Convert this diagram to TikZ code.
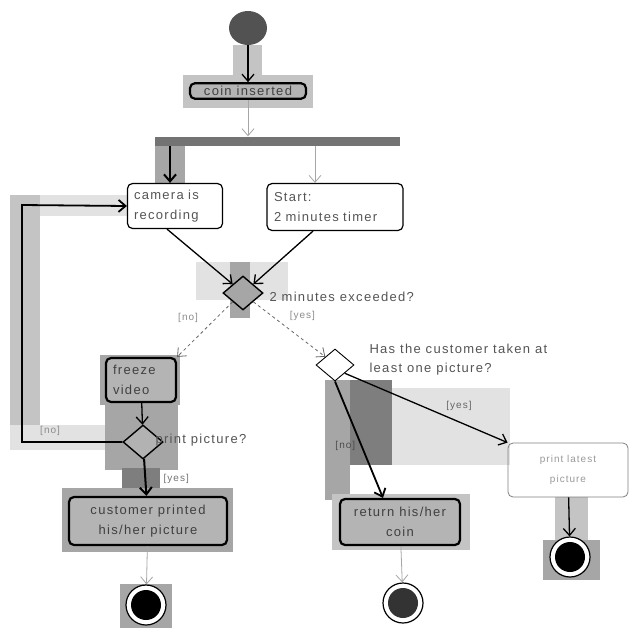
\documentclass[tikz,border=0pt]{standalone}
\usepackage{fontspec}
\setmainfont{Liberation Sans}
\newfontfamily\widefont[LetterSpace=10]{Liberation Sans}
\usetikzlibrary{arrows.meta,shapes.geometric}
\definecolor{txt}{HTML}{555555}
\definecolor{boxfill}{HTML}{B4B4B4}
\definecolor{hlA}{HTML}{E2E2E2}
\definecolor{hlB}{HTML}{C4C4C4}
\definecolor{hlC}{HTML}{A6A6A6}
\definecolor{hlD}{HTML}{7E7E7E}
\tikzset{
  act/.style={draw=black, rounded corners=5pt, line width=1.2pt, align=left,
    text=txt, font=\widefont\fontsize{13}{20}\selectfont, inner sep=6pt},
  actgray/.style={act, fill=boxfill, line width=2.2pt, text=black!75},
  decision/.style={diamond, draw=black, line width=1.4pt, minimum width=40pt,
    minimum height=34pt, inner sep=0pt},
  startnode/.style={ellipse, fill=black!68, minimum width=38pt, minimum height=34pt, inner sep=0pt},
  endnode/.style={circle, draw=black, line width=1.2pt, fill=white, minimum size=40pt, inner sep=0pt,
    path picture={\fill[#1] (path picture bounding box.center) circle (15pt);}},
  endnode/.default=black,
  flow/.style={draw=black, line width=1.3pt, -{Straight Barb[length=7pt,width=12pt]}},
  thinflow/.style={draw=black!35, line width=0.8pt, -{Straight Barb[length=7pt,width=12pt]}},
  guard/.style={text=black!45, font=\widefont\fontsize{10}{12}\selectfont},
  note/.style={text=txt, font=\widefont\fontsize{13}{19}\selectfont, align=left},
}
\begin{document}
\begin{tikzpicture}[x=1pt,y=-1pt]
\useasboundingbox (0,0) rectangle (640,640);
\fill[white] (0,0) rectangle (640,640);

% shaded backdrop marks
\fill[hlB] (233,45) rectangle (262,75);
\fill[hlB] (183,75) rectangle (313,108);
\fill[hlC] (155,140) rectangle (185,183);
\fill[hlA] (10,195) rectangle (127,216);
\fill[hlB] (10,195) rectangle (40,450);
\fill[hlA] (10,425) rectangle (110,450);
\fill[hlA] (196,262) rectangle (288,300);
\fill[hlC] (230,262) rectangle (250,318);
\fill[hlC] (100,355) rectangle (180,405);
\fill[hlC] (105,405) rectangle (178,470);
\fill[hlD] (122,468) rectangle (160,497);
\fill[hlC] (62,488) rectangle (233,552);
\fill[hlC] (120,584) rectangle (172,628);
\fill[hlA] (390,388) rectangle (510,465);
\fill[hlC] (325,380) rectangle (350,500);
\fill[hlD] (350,380) rectangle (392,465);
\fill[hlB] (332,494) rectangle (470,550);
\fill[hlB] (555,497) rectangle (588,540);
\fill[hlC] (543,540) rectangle (600,580);

% nodes
\node[startnode] (start) at (248,28) {};
\node[actgray, align=center, inner xsep=4pt, inner ysep=3pt, minimum width=116pt] (coin) at (248,91) {coin inserted};
\node[fill=black!55, minimum width=245pt, minimum height=9pt, inner sep=0pt] (fork) at (277,141) {};
\node[act, minimum width=95pt, minimum height=45pt, text width=82pt] (cam) at (175,206) {camera is\\recording};
\node[act, minimum width=136pt, minimum height=47pt, text width=122pt] (timer) at (335,207) {Start:\\2 minutes timer};
\node[decision, fill=black!35] (d1) at (243,293) {};
\node[note, anchor=west] at (266,297) {2 minutes exceeded?};
\node[decision, fill=white, line width=0.9pt, minimum width=38pt, minimum height=32pt] (d2) at (335,365) {};
\node[note, anchor=west] at (366,360) {Has the customer taken at\\least one picture?};
\node[actgray, minimum width=70pt, minimum height=44pt, text width=56pt] (freeze) at (141,380) {freeze\\video};
\node[decision, fill=black!30] (d3) at (143,442) {};
\node[note, anchor=west] at (152,440) {print picture?};
\node[actgray, align=center, minimum width=158pt, minimum height=48pt] (printed) at (148,521) {customer printed\\his/her picture};
\node[actgray, align=center, minimum width=120pt, minimum height=46pt] (retcoin) at (400,522) {return his/her\\coin};
\node[act, align=center, draw=black!50, line width=0.8pt, text=black!40,
  font=\widefont\fontsize{10}{20}\selectfont, minimum width=120pt, minimum height=54pt] (latest) at (568,470) {print latest\\picture};
\node[endnode] (end1) at (146,605) {};
\node[endnode=black!80] (end2) at (403,603) {};
\node[endnode] (end3) at (570,557) {};

% connectors
\draw[flow] (start) -- (coin);
\draw[thinflow] (coin) -- (fork.north -| coin);
\draw[flow, line width=2pt] (fork.south -| 170,0) -- (cam.north -| 170,0);
\draw[thinflow] (fork.south -| 315,0) -- (timer.north -| 315,0);
\draw[flow] (cam.south) ++(-8,0) -- (d1.north west);
\draw[flow] (timer.south) ++(-22,0) -- (d1.north east);
\draw[thinflow, dashed, draw=black!60] (d1.south west) -- node[guard, pos=0.45, above left, xshift=-6pt] {[no]} (freeze.north east);
\draw[thinflow, dashed, draw=black!60] (d1.south east) -- node[guard, pos=0.4, above right, xshift=4pt] {[yes]} (d2.north west);
\draw[flow] (freeze) -- (d3);
\draw[flow, line width=1.8pt] (d3.west) -- node[guard, pos=0.72, above, yshift=2pt] {[no]} (22,442) -- (22,205) -- (cam.west);
\draw[flow, line width=2pt] (d3) -- node[guard, pos=0.55, right, xshift=14pt, text=black!55] {[yes]} (printed);
\draw[thinflow] (printed) -- (end1);
\draw[flow, line width=1.8pt] (d2.south) -- node[guard, pos=0.55, left, xshift=-2pt, text=black!70] {[no]} (retcoin.north -| 383,0);
\draw[flow] (d2.south east) -- node[guard, pos=0.6, above right, text=black!60] {[yes]} (latest.north west);
\draw[thinflow] (retcoin) -- (end2);
\draw[flow] (latest) -- (end3);
\end{tikzpicture}
\end{document}
